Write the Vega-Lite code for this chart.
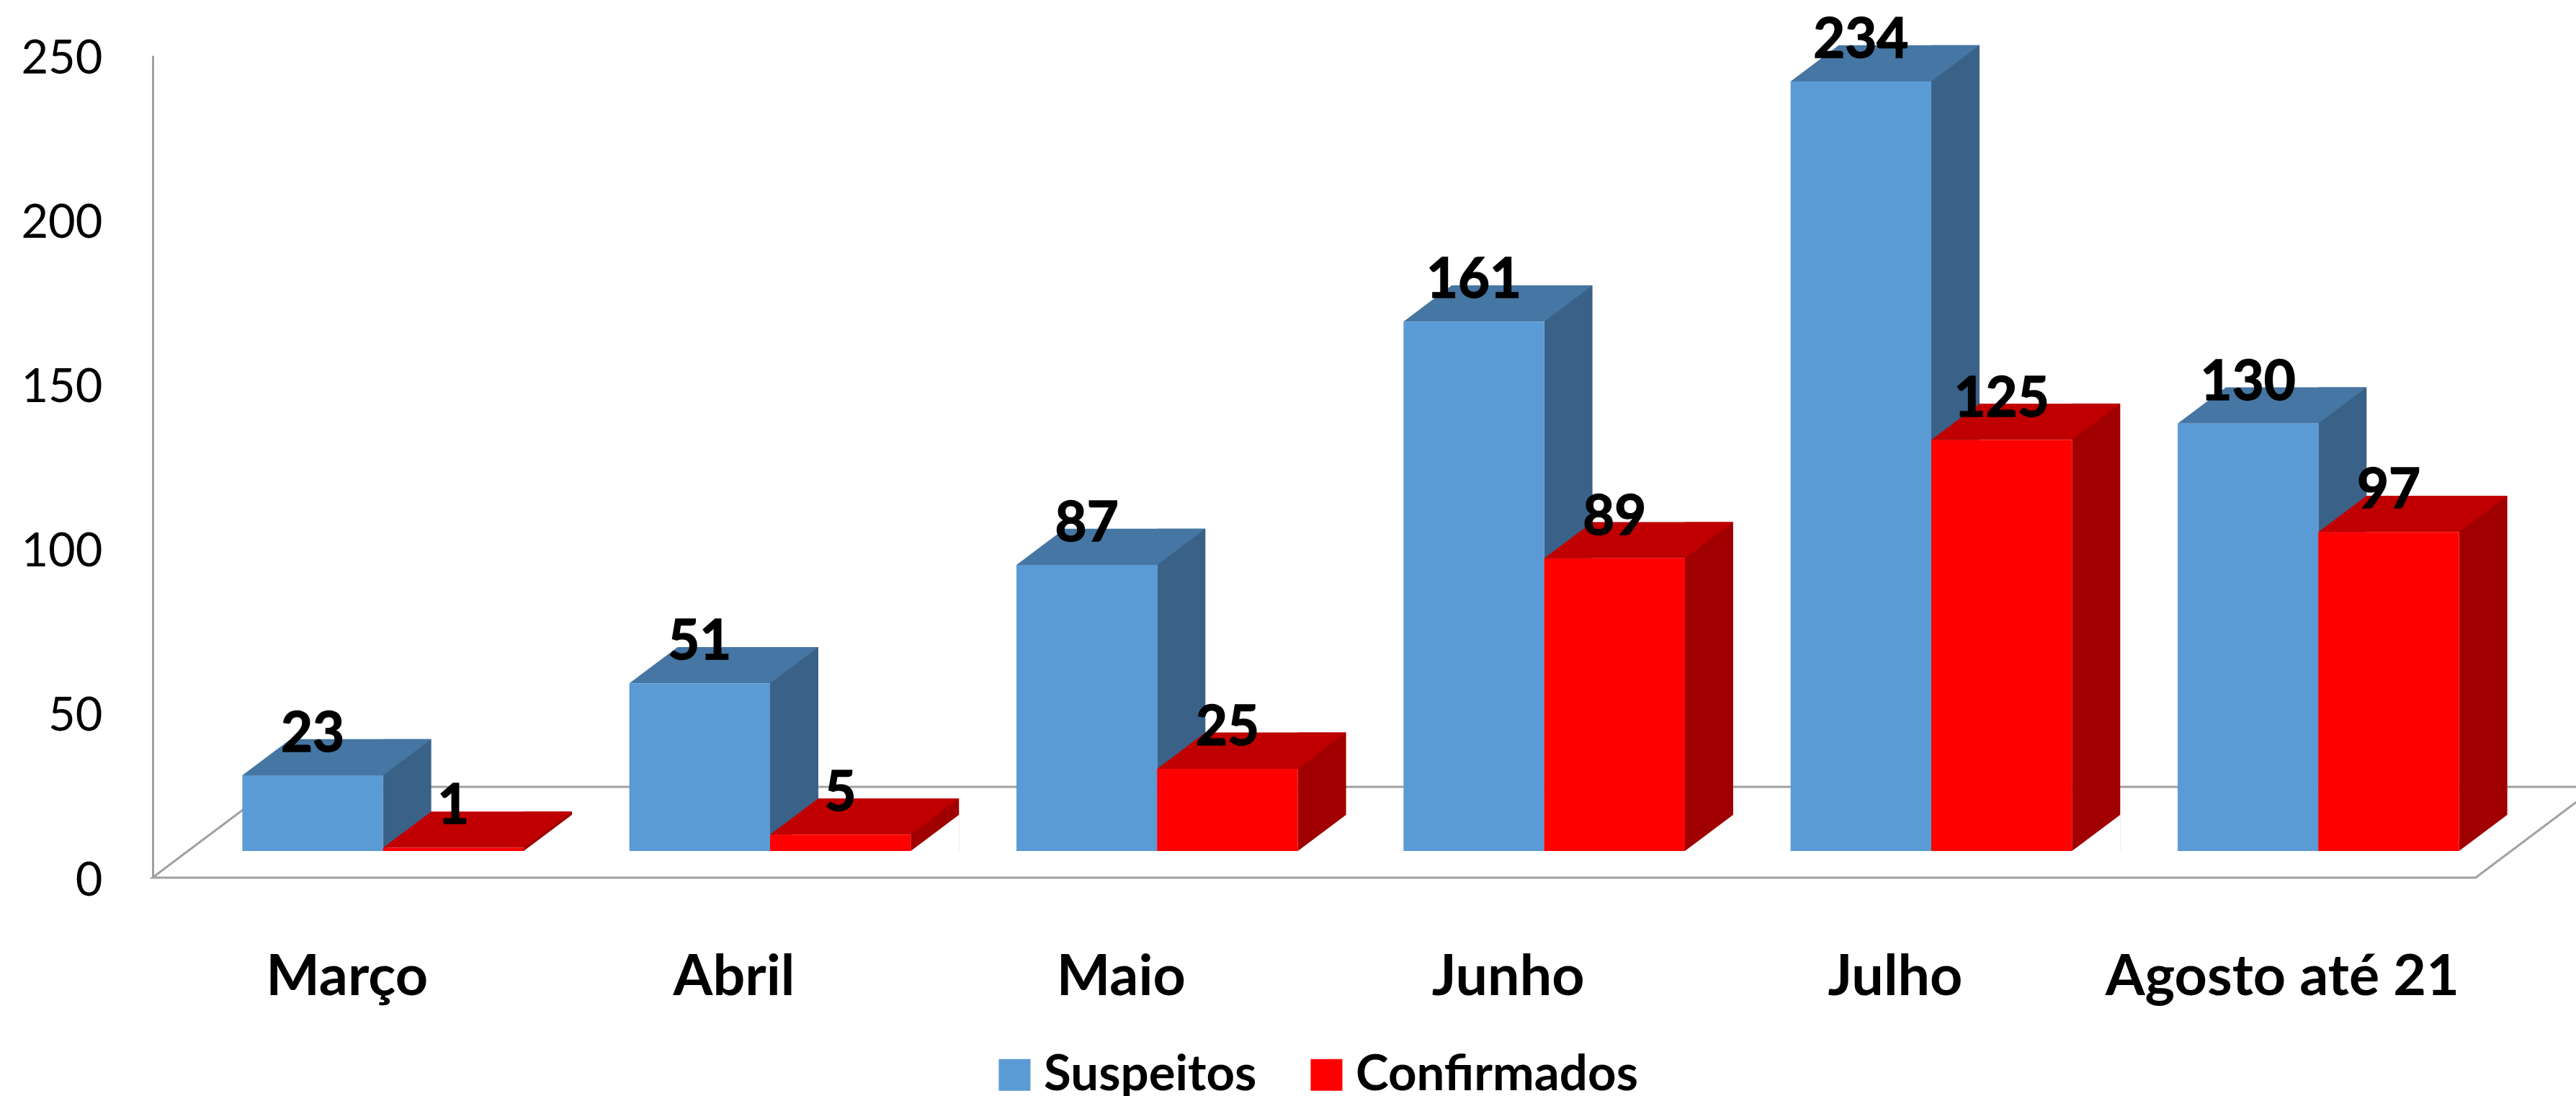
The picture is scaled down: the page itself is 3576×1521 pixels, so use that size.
{
"$schema":"https://vega.github.io/schema/vega-lite/v6.json",
"width":3224,"height":1141,
"autosize":{"type":"none"},
"padding":{"left":263,"top":77,"right":89,"bottom":303},
"background":"white",
"datasets":{"casos":[
{"Mes":"Março","Serie":"Suspeitos","Casos":23},{"Mes":"Março","Serie":"Confirmados","Casos":1},
{"Mes":"Abril","Serie":"Suspeitos","Casos":51},{"Mes":"Abril","Serie":"Confirmados","Casos":5},
{"Mes":"Maio","Serie":"Suspeitos","Casos":87},{"Mes":"Maio","Serie":"Confirmados","Casos":25},
{"Mes":"Junho","Serie":"Suspeitos","Casos":161},{"Mes":"Junho","Serie":"Confirmados","Casos":89},
{"Mes":"Julho","Serie":"Suspeitos","Casos":234},{"Mes":"Julho","Serie":"Confirmados","Casos":125},
{"Mes":"Agosto até 21","Serie":"Suspeitos","Casos":130},{"Mes":"Agosto até 21","Serie":"Confirmados","Casos":97}
]},
"config":{
"view":{"stroke":null},
"font":"Lato"
},
"layer":[
{"data":{"values":[{"parte":"piso"}]},
 "mark":{"type":"point","shape":"M-320,0L2905,0L3073,-126L-152,-126Z","size":4,"filled":false,"fill":null,"stroke":"#a0a0a0","strokeWidth":3,"opacity":1},
 "encoding":{"x":{"datum":"Março","type":"nominal","title":null,
   "scale":{"domain":["Março","Abril","Maio","Junho","Julho","Agosto até 21"],"paddingInner":0.273,"paddingOuter":0.1365},
   "axis":{"domain":false,"ticks":false,"grid":false,"labelPadding":100,"labelFont":"Lato","labelFontWeight":"bold","labelFontSize":79,"labelColor":"#000000","labelOffset":-50,"labelAngle":0,"title":null,"labelFlush":false,"labelOverlap":false,"labelLimit":700}},
  "y":{"datum":0,"type":"quantitative","title":null,"scale":{"domain":[0,250],"nice":false},
   "axis":{"domainColor":"#a0a0a0","domainWidth":3,"ticks":false,"grid":false,"offset":51,"labelPadding":70,"labelFont":"Lato","labelFontSize":65,"labelColor":"#000000","labelOffset":4,"values":[0,50,100,150,200,250],"title":null,"labelFlush":false,"labelOverlap":false}}}},
{"data":{"name":"casos"},"transform":[{"filter":"datum.Serie==='Suspeitos'"}],
 "mark":{"type":"bar","width":67,"xOffset":33.5,"yOffset":-87.3,"y2Offset":-37,"color":"#3A6288"},
 "encoding":{"x":{"field":"Mes","type":"nominal"},"y":{"field":"Casos","type":"quantitative"},"y2":{"datum":0}}},
{"data":{"name":"casos"},"transform":[{"filter":"datum.Serie==='Confirmados'"}],
 "mark":{"type":"bar","width":67,"xOffset":228.8,"yOffset":-87.3,"y2Offset":-37,"color":"#A00000"},
 "encoding":{"x":{"field":"Mes","type":"nominal"},"y":{"field":"Casos","type":"quantitative"},"y2":{"datum":0}}},
{"data":{"name":"casos"},
"encoding":{
"x":{"field":"Mes","type":"nominal"},
"xOffset":{"field":"Serie","type":"nominal","scale":{"domain":["Suspeitos","Confirmados"],"paddingInner":0,"paddingOuter":0}}
},
"layer":[
{"mark":{"type":"point","shape":"M97.65,-37L165,-87.6L165,-36Z","size":4,"filled":true,"fill":"#ffffff","opacity":1,"stroke":null},
 "encoding":{"y":{"datum":0,"type":"quantitative"}}},
{"mark":{"type":"point","shape":"M-97.65,-37L-30.65,-87.3L164.65,-87.3L97.65,-37Z","size":4,"filled":true,"opacity":1,"stroke":null},
 "encoding":{"y":{"field":"Casos","type":"quantitative"},
 "fill":{"condition":{"test":"datum.Serie==='Suspeitos'","value":"#4676A3"},"value":"#C00000"}}},
{"mark":{"type":"bar","yOffset":-37,"y2Offset":-37},
 "encoding":{"y":{"field":"Casos","type":"quantitative"},"y2":{"datum":0},
 "color":{"field":"Serie","type":"nominal","scale":{"domain":["Suspeitos","Confirmados"],"range":["#5B9BD5","#FF0000"]},
 "legend":{"title":null,"orient":"none","direction":"horizontal","legendX":1111,"legendY":1380,"symbolType":"square","symbolSize":1936,"symbolStrokeWidth":0,"symbolOpacity":1,"labelFont":"Lato","labelFontWeight":"bold","labelFontSize":69,"labelColor":"#000000","labelOffset":6,"columnPadding":62,"padding":0,"labelLimit":700}}}},
{"mark":{"type":"text","font":"Lato","fontWeight":"bold","fontSize":76,"color":"#000000","stroke":"#000000","strokeWidth":1.5,"baseline":"alphabetic","align":"center","yOffset":-70},
 "encoding":{"y":{"field":"Casos","type":"quantitative"},"text":{"field":"Casos","type":"quantitative"}}}
]}
]
}
